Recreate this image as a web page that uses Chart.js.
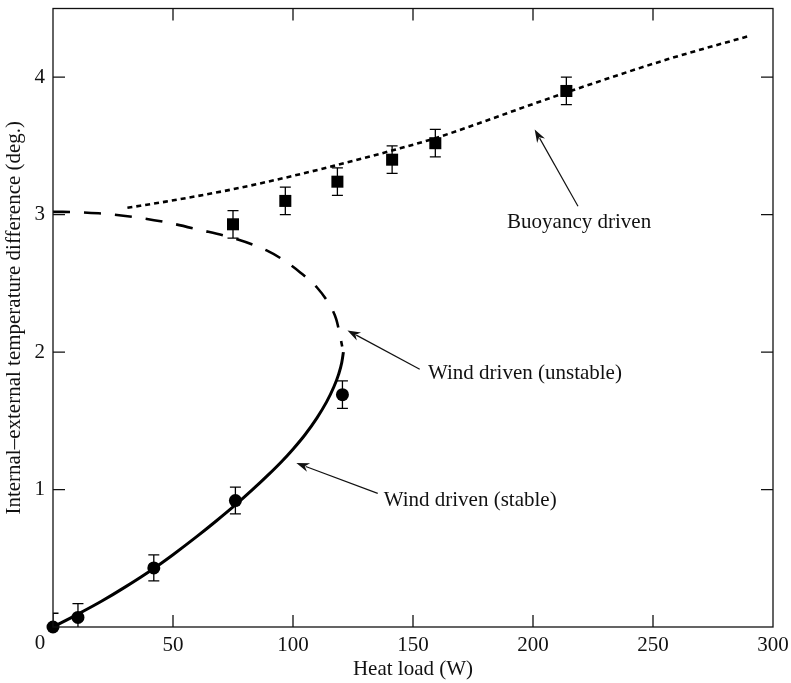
<!DOCTYPE html>
<html>
<head>
<meta charset="utf-8">
<script src="https://cdn.jsdelivr.net/npm/chart.js@4"></script>
<style>
  html, body { margin: 0; padding: 0; background: #fff; }
  #wrap { width: 791px; height: 683px; }
</style>
</head>
<body>
<div id="wrap"><canvas id="chart"></canvas></div>
<script>
// measured points (circles = wind driven, squares = buoyancy driven)
var circleX = [0, 10.4, 42, 76, 120.6];
var circleY = [0, 0.07, 0.43, 0.92, 1.69];
var circleErr = [0.1, 0.1, 0.095, 0.097, 0.1];

var squareX = [75, 96.8, 118.5, 141.3, 159.3, 213.9];
var squareY = [2.93, 3.10, 3.24, 3.40, 3.52, 3.90];
var squareErr = [0.1, 0.1, 0.1, 0.1, 0.1, 0.1];

// model curves
var stableX = [0, 10, 20, 30, 42, 50, 60, 68, 76, 83, 90, 95, 100, 105, 110, 114, 117, 119, 120.3, 121];
var stableY = [0, 0.09, 0.185, 0.29, 0.426, 0.526, 0.659, 0.771, 0.888, 0.997, 1.112, 1.199, 1.294, 1.399, 1.522, 1.638, 1.746, 1.838, 1.922, 2.0];

var unstableX = [0, 4, 19, 33, 47, 61, 75, 89, 96, 103, 110, 115, 118, 119.5, 120.5];
var unstableY = [3.02, 3.02, 3.01, 2.985, 2.945, 2.89, 2.83, 2.74, 2.67, 2.58, 2.47, 2.35, 2.24, 2.13, 2.04];

var buoyX = [31, 47, 75, 97, 117, 142, 159, 200, 214, 256, 290];
var buoyY = [3.05, 3.095, 3.185, 3.27, 3.355, 3.47, 3.555, 3.805, 3.89, 4.13, 4.30];

var xTicks = [0, 50, 100, 150, 200, 250, 300];
var yTicks = [0, 1, 2, 3, 4];

// annotations: text + arrow (tail -> tip), in data units
var notes = [
    { text: "Wind driven (stable)", tx: 137.8, ty: 0.879, ax: 135.3, ay: 0.972, bx: 101.4, by: 1.193 },
    { text: "Wind driven (unstable)", tx: 156.25, ty: 1.808, ax: 152.8, ay: 1.876, bx: 122.7, by: 2.158 },
    { text: "Buoyancy driven", tx: 189.2, ty: 2.905, ax: 218.75, ay: 3.061, bx: 200.7, by: 3.62 },
];

var FONT = "'Liberation Serif', 'Times New Roman', serif";
var FSIZE = 21;

function toXY(xs, ys) {
    return xs.map(function(x, i) { return { x: x, y: ys[i] }; });
}

// box, inward ticks, error bars, arrows, labels
var framePlugin = {
    id: 'frame',
    beforeDatasetsDraw: function(chart) {
        var ctx = chart.ctx, a = chart.chartArea;
        var xs = chart.scales.x, ys = chart.scales.y;
        ctx.save();
        ctx.beginPath();
        ctx.rect(a.left, a.top, a.right - a.left, a.bottom - a.top);
        ctx.clip();
        ctx.strokeStyle = '#000';
        ctx.lineWidth = 1.3;
        function bars(px, py, pe) {
            for (var i = 0; i < px.length; i++) {
                var x = xs.getPixelForValue(px[i]);
                var y1 = ys.getPixelForValue(py[i] + pe[i]);
                var y2 = ys.getPixelForValue(py[i] - pe[i]);
                ctx.beginPath();
                ctx.moveTo(x, y1); ctx.lineTo(x, y2);
                ctx.moveTo(x - 5.5, y1); ctx.lineTo(x + 5.5, y1);
                ctx.moveTo(x - 5.5, y2); ctx.lineTo(x + 5.5, y2);
                ctx.stroke();
            }
        }
        bars(circleX, circleY, circleErr);
        bars(squareX, squareY, squareErr);
        ctx.restore();
    },
    afterDraw: function(chart) {
        var ctx = chart.ctx, a = chart.chartArea;
        var xs = chart.scales.x, ys = chart.scales.y;
        ctx.save();
        ctx.strokeStyle = '#111';
        ctx.lineWidth = 1.3;
        ctx.strokeRect(a.left, a.top, a.right - a.left, a.bottom - a.top);
        var tl = 12;
        ctx.beginPath();
        xTicks.forEach(function(v) {
            if (v <= 0 || v >= 300) return;
            var x = xs.getPixelForValue(v);
            ctx.moveTo(x, a.bottom); ctx.lineTo(x, a.bottom - tl);
            ctx.moveTo(x, a.top); ctx.lineTo(x, a.top + tl);
        });
        yTicks.forEach(function(v) {
            if (v <= 0) return;
            var y = ys.getPixelForValue(v);
            ctx.moveTo(a.left, y); ctx.lineTo(a.left + tl, y);
            ctx.moveTo(a.right, y); ctx.lineTo(a.right - tl, y);
        });
        ctx.stroke();

        // shared corner "0"
        ctx.fillStyle = '#111';
        ctx.font = FSIZE + 'px ' + FONT;
        ctx.textAlign = 'center';
        ctx.textBaseline = 'middle';
        ctx.fillText('0', a.left - 13, a.bottom + 16);

        // annotations
        ctx.lineWidth = 1.2;
        ctx.strokeStyle = '#111';
        notes.forEach(function(n) {
            var x1 = xs.getPixelForValue(n.ax), y1 = ys.getPixelForValue(n.ay);
            var x2 = xs.getPixelForValue(n.bx), y2 = ys.getPixelForValue(n.by);
            var ang = Math.atan2(y2 - y1, x2 - x1);
            var hl = 13, hw = 4.5;
            var bx = x2 - hl * Math.cos(ang), by = y2 - hl * Math.sin(ang);
            ctx.beginPath();
            ctx.moveTo(x1, y1); ctx.lineTo(bx + 3 * Math.cos(ang), by + 3 * Math.sin(ang));
            ctx.stroke();
            ctx.beginPath();
            ctx.moveTo(x2, y2);
            ctx.lineTo(bx - hw * Math.sin(ang), by + hw * Math.cos(ang));
            ctx.lineTo(bx + 4 * Math.cos(ang), by + 4 * Math.sin(ang));
            ctx.lineTo(bx + hw * Math.sin(ang), by - hw * Math.cos(ang));
            ctx.closePath();
            ctx.fill();
            ctx.textAlign = 'left';
            ctx.textBaseline = 'alphabetic';
            ctx.fillText(n.text, xs.getPixelForValue(n.tx), ys.getPixelForValue(n.ty));
        });
        ctx.restore();
    }
};

var ctx = document.getElementById('chart').getContext('2d');
var myChart = new Chart(ctx, {
    type: 'scatter',
    data: {
        datasets: [
            {
                label: 'Wind driven (stable)',
                data: toXY(stableX, stableY),
                showLine: true,
                borderColor: '#000',
                borderWidth: 3,
                pointRadius: 0,
                cubicInterpolationMode: 'monotone',
            },
            {
                label: 'Wind driven (unstable)',
                data: toXY(unstableX, unstableY),
                showLine: true,
                borderColor: '#000',
                borderWidth: 2.6,
                borderDash: [17, 14],
                pointRadius: 0,
                cubicInterpolationMode: 'monotone',
            },
            {
                label: 'Buoyancy driven',
                data: toXY(buoyX, buoyY),
                showLine: true,
                borderColor: '#000',
                borderWidth: 2.6,
                borderDash: [5, 4],
                pointRadius: 0,
                cubicInterpolationMode: 'monotone',
            },
            {
                label: 'Wind data',
                data: toXY(circleX, circleY),
                pointStyle: 'circle',
                pointRadius: 6.5,
                backgroundColor: '#000',
                borderColor: '#000',
                borderWidth: 0,
                clip: false,
            },
            {
                label: 'Buoyancy data',
                data: toXY(squareX, squareY),
                pointStyle: 'rect',
                pointRadius: 8.5,
                backgroundColor: '#000',
                borderColor: '#000',
                borderWidth: 0,
                clip: false,
            },
        ],
    },
    options: {
        responsive: true,
        maintainAspectRatio: false,
        animation: false,
        layout: { padding: { left: 0, right: 18, top: 4, bottom: 0 } },
        scales: {
            x: {
                type: 'linear',
                min: 0,
                max: 300,
                afterBuildTicks: function(scale) {
                    scale.ticks = xTicks.map(function(v) { return { value: v }; });
                },
                afterFit: function(scale) {
                    scale.height = 56;
                    scale.paddingLeft = 0;
                    scale.paddingRight = 0;
                },
                grid: { display: false, drawTicks: false },
                border: { display: false },
                ticks: {
                    padding: 6,
                    color: '#111',
                    font: { family: FONT, size: FSIZE },
                    maxRotation: 0,
                    callback: function(v) { return v === 0 ? '' : v; },
                },
                title: {
                    display: true,
                    text: 'Heat load (W)',
                    color: '#111',
                    font: { family: FONT, size: FSIZE },
                    padding: { top: 0, bottom: 1 },
                },
            },
            y: {
                type: 'linear',
                min: 0,
                max: 4.5,
                afterBuildTicks: function(scale) {
                    scale.ticks = yTicks.map(function(v) { return { value: v }; });
                },
                afterFit: function(scale) {
                    scale.width = 53;
                    scale.paddingTop = 0;
                    scale.paddingBottom = 0;
                },
                grid: { display: false, drawTicks: false },
                border: { display: false },
                ticks: {
                    padding: 8,
                    color: '#111',
                    font: { family: FONT, size: FSIZE },
                    callback: function(v) { return v === 0 ? '' : v; },
                },
                title: {
                    display: true,
                    text: 'Internal–external temperature difference (deg.)',
                    color: '#111',
                    font: { family: FONT, size: FSIZE },
                    padding: { top: 2, bottom: 0 },
                },
            },
        },
        plugins: {
            legend: { display: false },
            tooltip: { enabled: false },
        },
    },
    plugins: [framePlugin],
});
</script>
</body>
</html>
